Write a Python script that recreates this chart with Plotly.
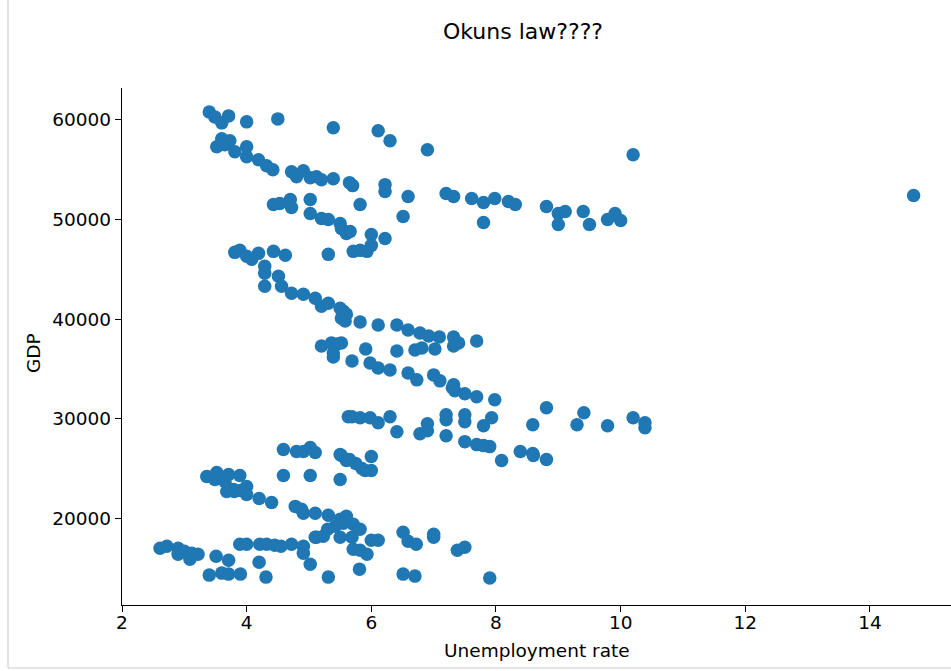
import plotly.graph_objects as go

unemployment = [
    3.40, 3.49, 3.60, 3.71, 4.00, 4.50, 5.39, 6.11, 6.30, 6.90, 10.20,
    3.60, 3.73, 3.52, 3.65, 3.81, 4.00, 4.00, 4.19, 4.32, 4.42, 4.72, 4.80, 4.91, 5.02, 5.12,
    5.20, 5.39, 5.65, 5.70, 6.22, 6.22, 6.59, 7.20, 7.32, 7.61, 7.80, 7.98, 8.20, 8.31, 8.81,
    9.00, 9.11, 9.40, 9.00, 9.50, 9.79, 9.91, 10.00, 14.70,
    4.43, 4.53, 4.70, 4.72, 5.02, 5.02, 5.20, 5.31, 5.50, 5.82, 6.51, 7.80, 5.52, 5.60, 5.66,
    6.00, 6.22, 6.00, 5.71, 5.82, 5.93, 5.31,
    3.81, 3.89, 4.00, 4.08, 4.19, 4.43, 4.62, 4.29, 4.29, 4.51, 4.29, 4.56, 4.72, 4.91, 5.10,
    5.20, 5.31, 5.50, 5.52, 5.55, 5.58, 5.60, 5.82, 6.11, 6.41, 6.59, 6.78, 6.92, 7.09, 7.32,
    7.40, 7.32, 7.69, 5.52, 5.20, 5.36, 5.45, 5.39, 5.39, 5.91, 6.41, 6.70, 6.81, 7.02,
    5.69, 5.98, 6.11, 6.30, 6.59, 6.73, 7.00, 7.10, 7.32, 7.34, 7.50, 7.69, 7.98, 7.30,
    5.63, 5.69, 5.82, 5.98, 6.11, 6.30, 6.41, 6.78, 6.90, 6.90, 7.20, 7.20, 7.20, 7.50, 7.50,
    7.50, 7.69, 7.80, 7.90, 7.80, 7.93, 8.09, 8.39, 8.59, 8.59, 8.81, 8.60, 8.81, 9.41, 9.30,
    9.79, 10.20, 10.39, 10.39,
    4.59, 4.80, 4.91, 5.02, 5.10, 5.50, 5.60, 5.52, 5.65, 5.75, 5.85, 6.00, 5.90, 6.00,
    3.36, 3.52, 3.71, 3.89, 3.49, 3.65, 3.71, 4.00, 3.80, 3.68, 3.79, 3.90, 4.00, 4.59, 5.02, 5.50,
    4.20, 4.40, 4.78, 4.88, 4.91, 5.10, 5.31, 5.50, 5.60, 5.42, 5.55, 5.71, 5.82, 5.30,
    2.61, 2.72, 2.90, 2.90, 3.00, 3.12, 3.09, 3.22, 3.51, 3.71, 3.40, 3.60, 3.71, 3.90,
    3.89, 4.00, 4.21, 4.32, 4.45, 4.55, 4.72, 4.91, 4.91, 5.02, 4.20, 4.31, 5.10, 5.12, 5.23,
    5.50, 5.69, 6.00, 6.11, 5.71, 5.82, 5.93, 5.31, 5.81, 6.51, 6.59, 6.72, 7.00, 7.00, 7.38,
    7.50, 6.51, 6.70, 7.90,
]

gdp = [
    60800, 60300, 59700, 60400, 59800, 60100, 59200, 58900, 57900, 57000, 56500,
    58100, 57900, 57300, 57500, 56800, 57300, 56300, 56000, 55400, 55000, 54800, 54300, 54900, 54200, 54300,
    54000, 54100, 53700, 53400, 53500, 52800, 52300, 52600, 52300, 52100, 51700, 52100, 51800, 51500, 51300,
    50600, 50800, 50800, 49500, 49500, 50000, 50600, 49900, 52400,
    51500, 51600, 52000, 51200, 52000, 50600, 50100, 50000, 49600, 51500, 50300, 49700, 49100, 48600, 48800,
    48500, 48100, 47400, 46800, 46900, 46800, 46500,
    46700, 46900, 46300, 46000, 46600, 46800, 46400, 45300, 44600, 44300, 43300, 43300, 42600, 42500, 42100,
    41300, 41600, 41100, 40100, 40800, 39800, 40500, 39700, 39400, 39400, 38900, 38600, 38300, 38200, 38200,
    37600, 37300, 37800, 37600, 37300, 37600, 37500, 36600, 36200, 37000, 36800, 36900, 37100, 37000,
    35800, 35600, 35100, 34900, 34600, 33900, 34400, 33800, 33400, 32800, 32500, 32200, 31900, 33100,
    30200, 30200, 30100, 30100, 29600, 30200, 28700, 28500, 29500, 28800, 30400, 29900, 28300, 30400, 29700,
    27700, 27400, 27300, 27200, 29300, 30100, 25800, 26700, 26500, 29400, 31100, 26300, 25900, 30600, 29400,
    29300, 30100, 29600, 29100,
    26900, 26700, 26700, 27100, 26600, 26400, 25800, 26300, 25900, 25500, 25000, 26200, 24800, 24800,
    24200, 24600, 24400, 24300, 23900, 23700, 23000, 23200, 22700, 22700, 22900, 22800, 22400, 24300, 24300, 23900,
    22000, 21600, 21200, 20900, 20500, 20500, 20300, 19900, 20200, 19200, 19500, 19400, 18900, 18900,
    17000, 17200, 17000, 16400, 16700, 16500, 15900, 16400, 16200, 15800, 14300, 14500, 14400, 14400,
    17400, 17400, 17400, 17400, 17300, 17200, 17400, 17200, 16500, 15400, 15600, 14100, 18100, 18100, 18200,
    18100, 18100, 17800, 17800, 16900, 16800, 16400, 14100, 14900, 18600, 17700, 17400, 18400, 18100, 16800,
    17100, 14400, 14200, 14000,
]

x_ticks = [2, 4, 6, 8, 10, 12, 14]
y_ticks = [20000, 30000, 40000, 50000, 60000]

FONT = "DejaVu Sans"
TICK_SIZE = 18.5
LABEL_SIZE = 18.5
TITLE_SIZE = 22

fig = go.Figure(
    go.Scatter(
        x=unemployment, y=gdp, mode="markers",
        marker=dict(color="#1f77b4", size=13.5, line=dict(width=0)),
        hoverinfo="skip",
    )
)

fig.update_layout(
    width=951, height=671,
    margin=dict(l=122, r=0, t=88, b=66),
    paper_bgcolor="white", plot_bgcolor="white",
    showlegend=False,
    font=dict(family=FONT, size=TICK_SIZE, color="black"),
    title=dict(text="Okuns law????", x=523 / 951, xref="container", xanchor="center",
               y=1 - 31 / 671, yref="container", yanchor="middle",
               font=dict(family=FONT, size=TITLE_SIZE, color="black")),
)

axis_style = dict(
    showline=True, linecolor="black", linewidth=1.3, mirror=False,
    showgrid=False, zeroline=False, ticks="outside", ticklen=6, tickwidth=1.3,
    tickcolor="black", tickfont=dict(family=FONT, size=TICK_SIZE, color="black"),
)
fig.update_xaxes(range=[2.0, 15.3], tickvals=x_ticks,
                 ticktext=[str(v) for v in x_ticks], ticklabelstandoff=-5, **axis_style)
fig.update_yaxes(range=[11300, 63200], tickvals=y_ticks,
                 ticktext=[str(v) for v in y_ticks], **axis_style)

fig.add_annotation(text="Unemployment rate", xref="paper", yref="paper",
                   x=0.5, y=(605 - 650) / 517, showarrow=False,
                   font=dict(family=FONT, size=LABEL_SIZE, color="black"),
                   xanchor="center", yanchor="middle")
fig.add_annotation(text="GDP", xref="paper", yref="paper",
                   x=(33 - 122) / 829, y=(605 - 353) / 517, showarrow=False, textangle=-90,
                   font=dict(family=FONT, size=LABEL_SIZE, color="black"),
                   xanchor="center", yanchor="middle")

# outer frame lines (left and bottom border of the cell)
fig.add_shape(type="line", xref="paper", yref="paper",
              x0=(8 - 122) / 829, x1=(8 - 122) / 829, y0=(605 - 0) / 517, y1=(605 - 668) / 517,
              line=dict(color="#cccccc", width=1))
fig.add_shape(type="line", xref="paper", yref="paper",
              x0=(8 - 122) / 829, x1=1.0, y0=(605 - 668) / 517, y1=(605 - 668) / 517,
              line=dict(color="#cccccc", width=1))

fig.write_html(
    "out.html",
    config={"displayModeBar": False},
    post_script="document.body.style.margin='0';document.body.style.overflow='hidden';",
)
